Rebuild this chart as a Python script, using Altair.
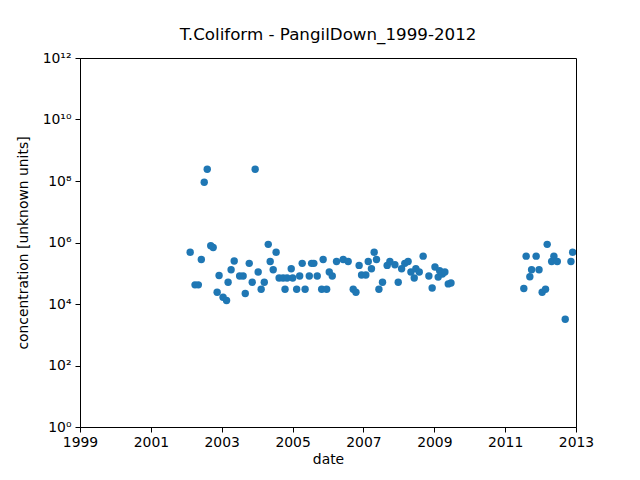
import altair as alt
import pandas as pd

dates = [
    "2002-02-10", "2002-04-01", "2002-05-05", "2002-06-05", "2002-07-05",
    "2002-08-05", "2002-09-10", "2002-10-05", "2002-11-15", "2002-12-05",
    "2003-01-15", "2003-02-20", "2003-03-08", "2003-04-08", "2003-05-10",
    "2003-07-05", "2003-08-10", "2003-09-01", "2003-10-12", "2003-11-12",
    "2003-12-12", "2004-01-12", "2004-02-12", "2004-03-15", "2004-04-25",
    "2004-05-15", "2004-06-15", "2004-07-15", "2004-08-15", "2004-09-25",
    "2004-10-15", "2004-11-05", "2004-12-18", "2005-01-02", "2005-02-12",
    "2005-03-15", "2005-04-10", "2005-05-10", "2005-06-22", "2005-07-16",
    "2005-08-08", "2005-09-12", "2005-10-28", "2005-11-12", "2005-12-18",
    "2006-01-14", "2006-02-14", "2006-03-30", "2006-06-07", "2006-07-28",
    "2006-09-18", "2006-10-16", "2006-11-18", "2006-12-13", "2007-01-26",
    "2007-02-20", "2007-03-25", "2007-04-22", "2007-05-16", "2007-06-10",
    "2007-07-17", "2007-09-03", "2007-10-01", "2007-11-22", "2007-12-26",
    "2008-01-30", "2008-03-03", "2008-04-06", "2008-05-05", "2008-06-08",
    "2008-06-25", "2008-07-30", "2008-09-08", "2008-11-06", "2008-12-10",
    "2009-01-08", "2009-02-10", "2009-02-25", "2009-03-25", "2009-04-20",
    "2009-05-25", "2009-06-22",
    "2011-07-13", "2011-08-06", "2011-09-13", "2011-10-01", "2011-11-17",
    "2011-12-17", "2012-01-18", "2012-02-22", "2012-03-10", "2012-04-25",
    "2012-05-18", "2012-06-22", "2012-09-12", "2012-11-10", "2012-11-28",
]

concentration = [
    4.8e5, 4.2e4, 4.2e4, 2.8e5, 9.1e7,
    2.4e8, 7.9e5, 6.9e5, 2.4e4, 8.5e4,
    1.65e4, 1.3e4, 5.1e4, 1.3e5, 2.5e5,
    8.1e4, 8.1e4, 2.2e4, 2.1e5, 5.1e4,
    2.4e8, 1.1e5, 3.0e4, 5.1e4, 8.7e5,
    2.4e5, 1.3e5, 4.8e5, 7.0e4, 7.0e4,
    3.0e4, 7.0e4, 1.4e5, 7.0e4, 3.0e4,
    8.1e4, 2.1e5, 3.0e4, 8.1e4, 2.1e5,
    2.1e5, 8.1e4, 3.0e4, 2.8e5, 3.0e4,
    1.1e5, 8.1e4, 2.4e5, 2.8e5, 2.4e5,
    3.0e4, 2.4e4, 1.8e5, 8.8e4, 8.8e4,
    2.4e5, 1.4e5, 4.8e5, 2.8e5, 3.0e4,
    5.1e4, 1.8e5, 2.4e5, 1.9e5, 5.1e4,
    1.4e5, 2.1e5, 2.4e5, 1.1e5, 7.0e4,
    1.4e5, 1.1e5, 3.6e5, 8.1e4, 3.3e4,
    1.6e5, 7.5e4, 1.2e5, 9.5e4, 1.1e5,
    4.5e4, 4.8e4,
    3.2e4, 3.6e5, 7.7e4, 1.3e5, 3.6e5,
    1.3e5, 2.4e4, 3.0e4, 8.7e5, 2.4e5,
    3.6e5, 2.4e5, 3.2e3, 2.4e5, 4.8e5,
]

year_ticks = [1999, 2001, 2003, 2005, 2007, 2009, 2011, 2013]
decade_ticks = [0, 2, 4, 6, 8, 10, 12]
superscripts = {0: "⁰", 2: "²", 4: "⁴", 6: "⁶", 8: "⁸", 10: "¹⁰", 12: "¹²"}

df = pd.DataFrame({"date": pd.to_datetime(dates), "value": concentration})

# log tick labels as 10^n with superscripts (largest test outermost)
label_expr = "''"
for d in decade_ticks:
    label_expr = f"datum.value >= {10 ** d / 2} ? '10{superscripts[d]}' : ({label_expr})"

chart = (
    alt.Chart(df)
    .mark_circle(size=55, opacity=1, color="#1f77b4", clip=True)
    .encode(
        x=alt.X(
            "date:T",
            title="date",
            scale=alt.Scale(
                domain=[alt.DateTime(year=1999, month=1, date=1),
                        alt.DateTime(year=2013, month=1, date=1)]
            ),
            axis=alt.Axis(
                values=[alt.DateTime(year=y, month=1, date=1) for y in year_ticks],
                format="%Y",
                labelAlign="center",
                labelFlush=False,
                labelPadding=3,
                titlePadding=4,
            ),
        ),
        y=alt.Y(
            "value:Q",
            title="concentration [unknown units]",
            scale=alt.Scale(type="log", domain=[1, 1e12]),
            axis=alt.Axis(
                values=[10 ** d for d in decade_ticks],
                labelExpr=label_expr,
                labelFlush=False,
                labelPadding=4,
                titlePadding=12,
            ),
        ),
    )
    .properties(
        width=496,
        height=369,
        autosize="none",
        padding={"left": 72, "top": 50, "right": 56, "bottom": 45},
        title="T.Coliform - PangilDown_1999-2012",
    )
    .configure_view(stroke="black", strokeWidth=1)
    .configure_axis(
        grid=False,
        domainColor="black",
        tickColor="black",
        tickSize=5,
        labelColor="black",
        titleColor="black",
        labelFont="DejaVu Sans",
        titleFont="DejaVu Sans",
        labelFontSize=13.9,
        titleFontSize=13.9,
        titleFontWeight="normal",
    )
    .configure_title(
        font="DejaVu Sans",
        fontSize=16.7,
        fontWeight="normal",
        color="black",
        offset=7,
    )
)

chart.save("out.html", embed_options={"renderer": "svg", "actions": False})
